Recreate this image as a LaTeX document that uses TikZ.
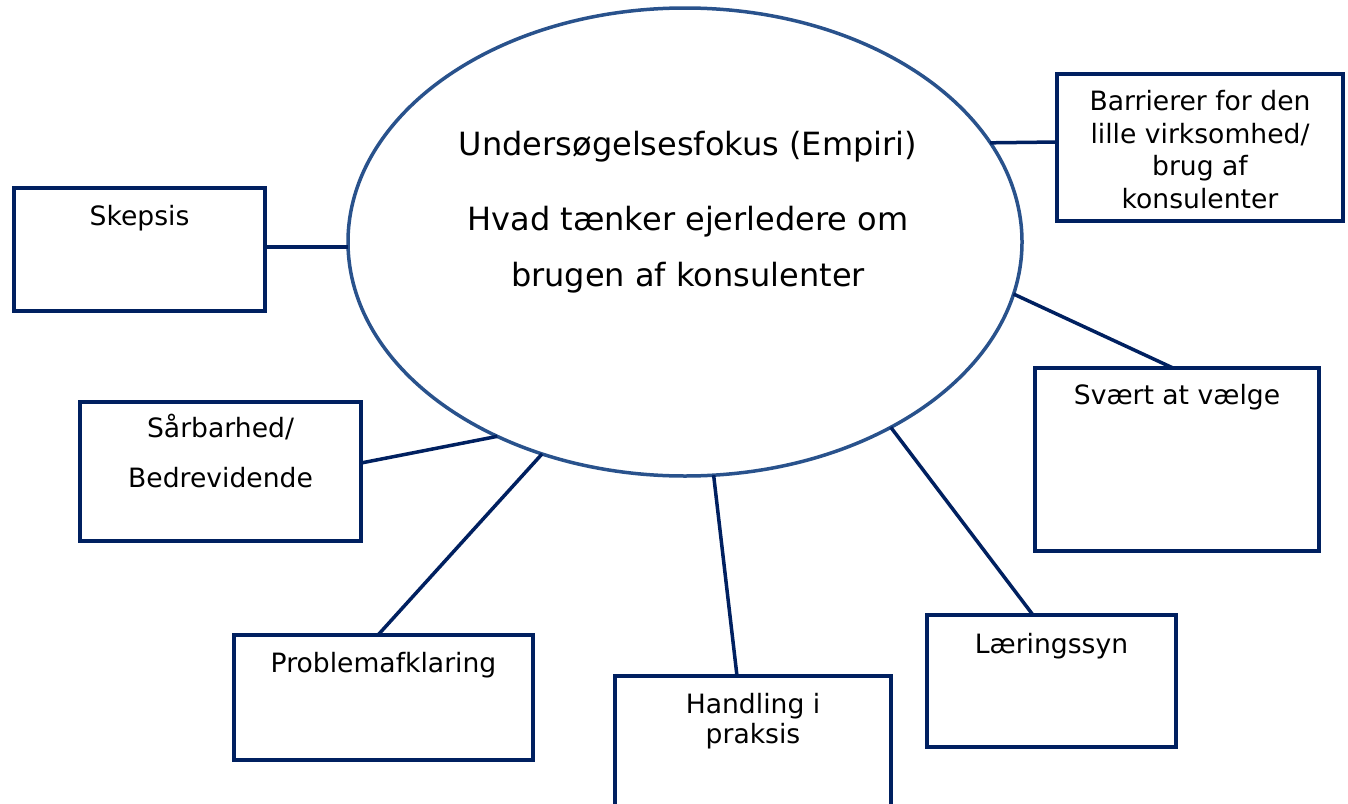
\documentclass[tikz,border=0pt]{standalone}
\usepackage{fontspec}
\setmainfont{DejaVu Sans}
\usetikzlibrary{shapes.geometric}
\definecolor{navy}{RGB}{0,32,96}
\definecolor{rim}{RGB}{41,82,140}
\tikzset{
  topic/.style={draw=navy, line width=4pt, fill=white, inner sep=0pt, outer sep=0pt},
  link/.style={draw=navy, line width=3.5pt},
  boxtext/.style={anchor=base, align=center, inner sep=0pt, text=black,
                  font=\fontsize{26.6}{33}\selectfont},
}
\begin{document}
\begin{tikzpicture}[x=1pt,y=-1pt]
\clip (0,0) rectangle (1348,803);
\fill[white] (0,0) rectangle (1348,803);

% central focus (multi-line texts are anchored at the baseline of their last line)
\node[ellipse, draw=rim, line width=3.5pt, minimum width=674pt, minimum height=468pt,
      inner sep=0pt, outer sep=0pt] (ell) at (685,242) {};
\node[anchor=base, align=center, inner sep=0pt, font=\fontsize{32}{56}\selectfont] (focus)
  at ([xshift=3pt,yshift=-44pt]ell.center)
  {Undersøgelsesfokus (Empiri)\\[19pt]Hvad tænker ejerledere om\\brugen af konsulenter};

% themes
\node[topic, minimum width=251pt, minimum height=123pt] (skepsis) at (139.5,249.5) {};
\node[boxtext] (skepsis-t) at ([yshift=-37pt]skepsis.north) {Skepsis};

\node[topic, minimum width=286pt, minimum height=147pt] (barr) at (1200,147.5) {};
\node[boxtext, font=\fontsize{26.6}{32.7}\selectfont] (barr-t) at ([yshift=-134.5pt]barr.north)
  {Barrierer for den\\lille virksomhed/\\brug af\\konsulenter};

\node[topic, minimum width=281pt, minimum height=139pt] (saar) at (220.5,471.5) {};
\node[boxtext, font=\fontsize{26.6}{50}\selectfont] (saar-t) at ([yshift=-85.5pt]saar.north)
  {Sårbarhed/\\Bedrevidende};

\node[topic, minimum width=284pt, minimum height=183pt] (svaert) at (1177,459.5) {};
\node[boxtext] (svaert-t) at ([yshift=-36.5pt]svaert.north) {Svært at vælge};

\node[topic, minimum width=299pt, minimum height=125pt] (prob) at (383.5,697.5) {};
\node[boxtext] (prob-t) at ([yshift=-37.5pt]prob.north) {Problemafklaring};

\node[topic, minimum width=276pt, minimum height=152pt] (hand) at (753,752) {};
\node[boxtext, font=\fontsize{26.6}{30}\selectfont] (hand-t) at ([yshift=-67.5pt]hand.north)
  {Handling i\\praksis};

\node[topic, minimum width=249pt, minimum height=132pt] (laer) at (1051.5,681) {};
\node[boxtext] (laer-t) at ([yshift=-38.5pt]laer.north) {Læringssyn};

% connectors
\draw[link] ([yshift=2.5pt]skepsis.east) -- ([yshift=2.5pt]skepsis.east -| ell.west);
\draw[link] ([yshift=5.5pt]barr.west) -- (ell.18.15);
\draw[link] ([yshift=8.5pt]saar.east) -- (ell.226.6);
\draw[link] ([xshift=-5.5pt]prob.north) -- (ell.236.1);
\draw[link] ([xshift=-16pt]hand.north) -- (ell.277.8);
\draw[link] ([xshift=-18.5pt]laer.north) -- (ell.318.2);
\draw[link] ([xshift=-4pt]svaert.north) -- (ell.351.5);
\end{tikzpicture}
\end{document}
